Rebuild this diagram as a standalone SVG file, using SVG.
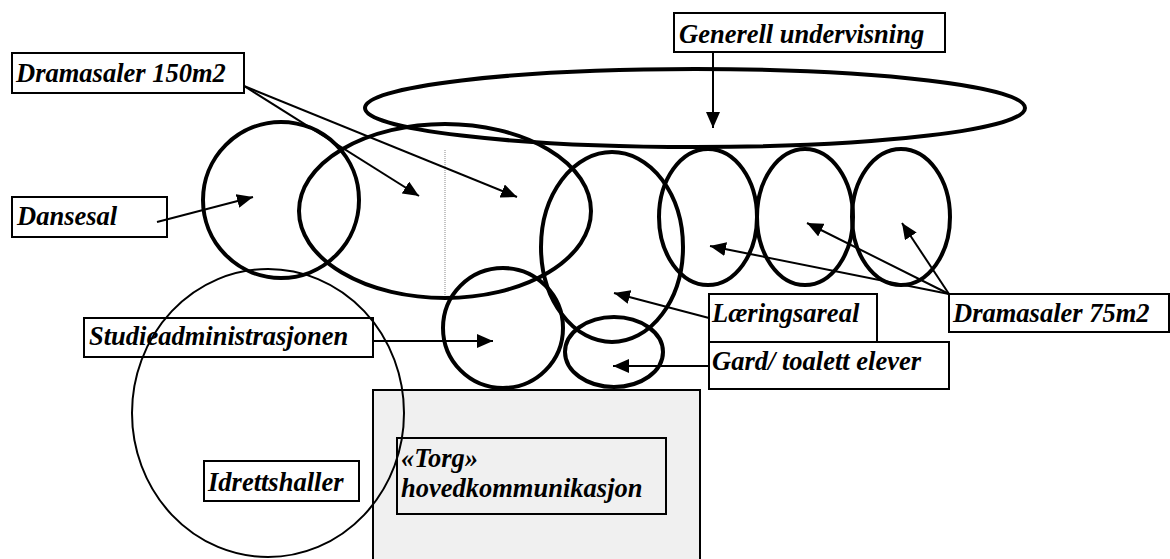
<svg xmlns="http://www.w3.org/2000/svg" width="1170" height="559" viewBox="0 0 1170 559">
<style>
.lbl{font-size:26.5px;font-weight:700;font-style:italic;fill:#000}
.box{fill:none;stroke:#000;stroke-width:2}
.area{fill:none;stroke:#000;stroke-width:4}
.conn{stroke:#000;stroke-width:2;fill:none;marker-end:url(#ah)}
</style>
<defs>
<marker id="ah" markerUnits="userSpaceOnUse" markerWidth="17" markerHeight="14" refX="16" refY="7" orient="auto">
<path d="M0,0 L16,7 L0,14 z" fill="#000"/>
</marker>
</defs>
<rect width="1170" height="559" fill="#fff"/>
<g id="torg-area">
<rect x="373" y="390" width="327" height="180" fill="#f0f0f0" stroke="#000" stroke-width="2"/>
</g>
<g id="idrettshaller-area">
<ellipse cx="268" cy="413" rx="136" ry="144" fill="none" stroke="#000" stroke-width="2"/>
</g>
<g id="generell-area"><ellipse class="area" cx="695" cy="108" rx="330" ry="39"/></g>
<g id="dansesal-area"><circle class="area" cx="281" cy="200" r="78"/></g>
<g id="drama150-area"><ellipse class="area" cx="445" cy="211" rx="146" ry="87"/>
<line x1="445" y1="150" x2="445" y2="295" stroke="#888" stroke-width="1" stroke-dasharray="1,1"/></g>
<g id="laering-area"><ellipse class="area" cx="612" cy="247" rx="71" ry="95"/></g>
<g id="studieadm-area"><circle class="area" cx="503" cy="328" r="60"/></g>
<g id="gard-area"><ellipse class="area" cx="614" cy="352" rx="49" ry="35"/></g>
<g id="drama75-1"><ellipse class="area" cx="708" cy="217" rx="49" ry="68"/></g>
<g id="drama75-2"><ellipse class="area" cx="805" cy="217" rx="48" ry="68"/></g>
<g id="drama75-3"><ellipse class="area" cx="901" cy="217" rx="49" ry="68"/></g>
<g id="connectors">
<line class="conn" x1="244" y1="86" x2="419" y2="196"/>
<line class="conn" x1="244" y1="86" x2="517" y2="197"/>
<line class="conn" x1="157" y1="222" x2="253" y2="197"/>
<line class="conn" x1="713" y1="53" x2="713" y2="128"/>
<line class="conn" x1="949" y1="294" x2="710" y2="246"/>
<line class="conn" x1="949" y1="294" x2="807" y2="223"/>
<line class="conn" x1="949" y1="294" x2="902" y2="223"/>
<line class="conn" x1="709" y1="318" x2="614" y2="293"/>
<line class="conn" x1="709" y1="366" x2="613" y2="366"/>
<line class="conn" x1="373" y1="341" x2="493" y2="341"/>
</g>
<g font-family="'Liberation Serif', 'DejaVu Serif', serif">
<g id="lbl-drama150"><rect class="box" x="12" y="53" width="232" height="40"/><text class="lbl" x="16" y="82">Dramasaler 150m2</text></g>
<g id="lbl-generell"><rect class="box" x="674" y="13" width="271" height="39"/><text class="lbl" x="679" y="43">Generell undervisning</text></g>
<g id="lbl-dansesal"><rect class="box" x="12" y="197" width="155" height="40"/><text class="lbl" x="17" y="225">Dansesal</text></g>
<g id="lbl-studieadm"><rect class="box" x="84" y="318" width="289" height="39"/><text class="lbl" x="89" y="345">Studieadministrasjonen</text></g>
<g id="lbl-laering"><rect class="box" x="709" y="294" width="168" height="48"/><text class="lbl" x="712" y="322">Læringsareal</text></g>
<g id="lbl-gard"><rect class="box" x="709" y="342" width="240" height="47"/><text class="lbl" x="712" y="370">Gard/ toalett elever</text></g>
<g id="lbl-drama75"><rect class="box" x="949" y="294" width="220" height="38"/><text class="lbl" x="953" y="322">Dramasaler 75m2</text></g>
<g id="lbl-idrett"><rect class="box" x="204" y="461" width="155" height="40"/><text class="lbl" x="208" y="491">Idrettshaller</text></g>
<g id="lbl-torg"><rect class="box" x="397" y="438" width="269" height="76"/><text class="lbl" x="401" y="467">«Torg»</text><text class="lbl" x="401" y="497">hovedkommunikasjon</text></g>
</g>
</svg>
